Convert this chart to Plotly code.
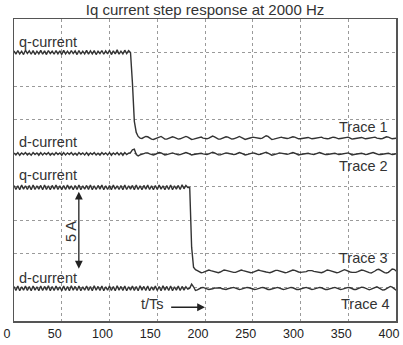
import plotly.graph_objects as go

# ---------------- data (y in screen divisions, 0 = bottom, 9 = top; t in samples) ----------------
STEP = 2  # sample spacing in t/Ts

# Trace 1: q-current (upper pair)
T1_PRE_T0 = 0
T1_PRE = [8.05,7.95,8.06,7.96,8.04,7.94,8.07,7.97,8.05,7.95,
          8.06,7.94,8.04,7.96,8.07,7.95,8.05,7.94,8.06,7.97,
          8.04,7.95,8.06,7.96,8.05,7.94,8.07,7.96,8.04,7.95,
          8.06,7.97,8.05,7.94,8.06,7.95,8.04,7.96,8.07,7.95,
          8.05,7.96,8.06,7.94,8.04,7.97,8.06,7.95,8.05,7.96,
          8.07,7.94,8.05,7.96,8.08,7.95,8.04,7.96,8.07,7.97,
          8.06]
T1_STEP_T0 = 122
T1_STEP = [8.00,7.10,5.95,5.62,5.50,5.45,5.44]
T1_POST_T0 = 136
T1_POST = [5.47,5.50,5.49,5.45,5.42,5.41,5.43,
           5.46,5.49,5.50,5.46,5.42,5.42,5.44,
           5.47,5.49,5.47,5.44,5.42,5.43,5.45,
           5.48,5.50,5.48,5.44,5.41,5.42,5.44,
           5.46,5.48,5.48,5.45,5.43,5.43,5.45,
           5.48,5.51,5.49,5.45,5.42,5.42,5.44,
           5.46,5.49,5.48,5.45,5.42,5.43,5.44,
           5.47,5.50,5.48,5.44,5.41,5.42,5.44,
           5.46,5.48,5.47,5.45,5.43,5.44,5.45,
           5.48,5.52,5.50,5.45,5.41,5.42,5.44,
           5.46,5.48,5.48,5.46,5.44,5.44,5.45,
           5.47,5.49,5.48,5.45,5.43,5.43,5.44,
           5.46,5.48,5.47,5.45,5.43,5.44,5.45,
           5.47,5.49,5.48,5.45,5.43,5.43,5.44,
           5.46,5.48,5.47,5.45,5.43,5.44,5.45,
           5.47,5.49,5.48,5.45,5.42,5.43,5.44,
           5.47,5.48,5.47,5.45,5.43,5.44,5.45,
           5.46,5.48,5.48,5.45,5.43,5.43,5.44,
           5.47,5.49,5.48,5.45,5.43,5.44,5.45,
           5.46,5.48,5.47,5.45,5.44,5.44,5.46]

# Trace 2: d-current (upper pair)
T2_PRE_T0 = 0
T2_PRE = [5.01,4.95,5.02,4.94,5.01,4.96,5.02,4.95,5.00,4.94,
          5.02,4.96,5.01,4.94,5.02,4.95,5.01,4.96,5.02,4.94,
          5.00,4.95,5.02,4.96,5.01,4.94,5.02,4.95,5.01,4.96,
          5.02,4.95,5.00,4.94,5.02,4.96,5.01,4.95,5.02,4.94,
          5.01,4.96,5.02,4.95,5.00,4.94,5.02,4.96,5.01,4.95,
          5.02,4.94,5.01,4.96,5.02,4.95,5.01,4.94,5.02,4.96,
          5.00]
T2_BLIP_T0 = 122
T2_BLIP = [5.02,5.10,5.12,4.96,4.92,4.95,4.98]
T2_POST_T0 = 136
T2_POST = [4.99,5.01,5.01,4.98,4.96,4.95,4.97,
           4.99,5.02,5.01,4.98,4.95,4.96,4.97,
           5.00,5.01,4.99,4.97,4.95,4.96,4.98,
           5.00,5.02,5.00,4.97,4.95,4.96,4.97,
           4.99,5.01,5.00,4.98,4.96,4.96,4.98,
           5.00,5.03,5.01,4.97,4.95,4.95,4.97,
           4.99,5.01,5.00,4.98,4.96,4.96,4.97,
           5.00,5.02,5.00,4.97,4.95,4.96,4.98,
           4.99,5.01,5.00,4.98,4.96,4.97,4.98,
           5.01,5.03,5.01,4.97,4.94,4.95,4.97,
           4.99,5.01,5.00,4.98,4.96,4.97,4.98,
           5.00,5.02,5.00,4.97,4.95,4.96,4.97,
           4.99,5.01,5.00,4.98,4.96,4.96,4.98,
           5.00,5.02,5.00,4.97,4.96,4.96,4.97,
           4.99,5.01,5.00,4.98,4.96,4.97,4.98,
           5.00,5.02,5.01,4.98,4.95,4.96,4.97,
           4.99,5.01,5.00,4.98,4.96,4.97,4.98,
           5.00,5.02,5.00,4.97,4.96,4.96,4.97,
           4.99,5.01,5.00,4.98,4.96,4.97,4.98,
           5.00,5.02,5.00,4.98,4.96,4.97,4.98]

# Trace 3: q-current (lower pair)
T3_PRE_T0 = 0
T3_PRE = [4.04,3.92,4.03,3.91,4.05,3.93,4.03,3.92,4.04,3.91,
          4.05,3.92,4.03,3.93,4.04,3.91,4.05,3.92,4.03,3.91,
          4.04,3.93,4.05,3.92,4.03,3.91,4.04,3.92,4.05,3.93,
          4.03,3.91,4.04,3.92,4.05,3.91,4.03,3.93,4.04,3.92,
          4.05,3.91,4.03,3.92,4.04,3.93,4.05,3.91,4.03,3.92,
          4.04,3.91,4.05,3.93,4.03,3.92,4.04,3.91,4.05,3.92,
          4.03,3.93,4.04,3.91,4.05,3.92,4.03,3.91,4.04,3.93,
          4.05,3.92,4.03,3.91,4.04,3.92,4.05,3.93,4.03,3.91,
          4.04,3.92,4.05,3.91,4.03,3.93,4.04,3.92,4.06,3.94,
          4.04,3.98]
T3_STEP_T0 = 184
T3_STEP = [3.98,2.20,1.60,1.53,1.50]
T3_POST_T0 = 194
T3_POST = [1.46,1.44,1.45,1.48,1.51,1.52,1.50,1.48,1.47,
           1.45,1.44,1.46,1.49,1.52,1.51,1.49,1.47,1.46,
           1.45,1.45,1.47,1.50,1.52,1.50,1.48,1.46,1.45,
           1.44,1.45,1.48,1.51,1.52,1.50,1.48,1.47,1.46,
           1.45,1.44,1.46,1.49,1.51,1.51,1.49,1.47,1.46,
           1.44,1.45,1.47,1.50,1.52,1.51,1.48,1.46,1.45,
           1.45,1.45,1.47,1.50,1.51,1.50,1.48,1.47,1.46,
           1.45,1.44,1.46,1.49,1.52,1.51,1.49,1.47,1.45,
           1.44,1.45,1.48,1.51,1.53,1.51,1.48,1.46,1.45,
           1.44,1.45,1.47,1.50,1.52,1.51,1.48,1.46,1.44,
           1.43,1.45,1.49,1.53,1.54,1.51,1.47,1.44,1.43,
           1.45,1.50,1.55,1.54,1.49,1.45,1.43,1.46,1.51]

# Trace 4: d-current (lower pair)
T4_PRE_T0 = 0
T4_PRE = [1.03,0.91,1.04,0.90,1.02,0.92,1.04,0.91,1.03,0.90,
          1.04,0.92,1.02,0.90,1.04,0.91,1.03,0.92,1.05,0.90,
          1.03,0.91,1.04,0.92,1.02,0.90,1.04,0.91,1.03,0.90,
          1.05,0.92,1.03,0.91,1.04,0.90,1.02,0.92,1.04,0.91,
          1.03,0.90,1.05,0.92,1.03,0.91,1.04,0.90,1.02,0.92,
          1.04,0.91,1.03,0.90,1.05,0.92,1.03,0.91,1.04,0.90,
          1.02,0.92,1.04,0.91,1.03,0.90,1.05,0.92,1.03,0.91,
          1.04,0.90,1.02,0.92,1.04,0.91,1.03,0.90,1.05,0.92,
          1.03,0.91,1.04,0.90,1.02,0.92,1.04,0.91,1.03,0.92,
          1.02,0.95]
T4_BLIP_T0 = 184
T4_BLIP = [0.98,1.10,1.02,0.91,0.93,0.97]
T4_POST_T0 = 196
T4_POST = [0.99,1.00,0.99,0.96,0.94,0.94,0.96,0.98,0.99,
           1.00,0.99,0.96,0.94,0.94,0.96,0.98,1.00,1.00,
           0.98,0.95,0.94,0.95,0.97,0.99,1.00,0.99,0.97,
           0.95,0.94,0.95,0.97,0.99,1.00,0.99,0.96,0.94,
           0.94,0.96,0.98,1.00,1.00,0.98,0.95,0.94,0.95,
           0.97,0.99,1.00,0.99,0.96,0.94,0.94,0.96,0.98,
           1.00,1.00,0.98,0.95,0.94,0.95,0.97,0.99,1.00,
           0.99,0.96,0.94,0.94,0.96,0.98,1.00,1.00,0.98,
           0.95,0.94,0.95,0.97,0.99,1.00,0.99,0.96,0.94,
           0.94,0.96,0.99,1.01,1.00,0.97,0.94,0.93,0.95,
           0.98,1.01,1.02,0.99,0.95,0.92,0.93,0.97,1.01,
           1.03,1.01,0.96,0.92,0.91,0.95,1.00,1.04,1.02]

X_TICKS = [0, 50, 100, 150, 200, 250, 300, 350, 400]
X_RANGE = [0, 400]
Y_RANGE = [0, 9]
TITLE = "Iq current step response at 2000 Hz"

# labels: (text, t, y-division)
LEFT_LABELS = [("q-current", 3.0, 8.32), ("d-current", 3.0, 5.32),
               ("q-current", 3.0, 4.35), ("d-current", 3.0, 1.29)]
RIGHT_LABELS = [("Trace 1", 394, 5.78), ("Trace 2", 394, 4.62),
                ("Trace 3", 394, 1.87), ("Trace 4", 396, 0.51)]


def build(segments):
    xs, ys = [], []
    for t0, vals in segments:
        xs += [t0 + STEP * i for i in range(len(vals))]
        ys += vals
    return xs, ys


traces = [
    [(T1_PRE_T0, T1_PRE), (T1_STEP_T0, T1_STEP), (T1_POST_T0, T1_POST)],
    [(T2_PRE_T0, T2_PRE), (T2_BLIP_T0, T2_BLIP), (T2_POST_T0, T2_POST)],
    [(T3_PRE_T0, T3_PRE), (T3_STEP_T0, T3_STEP), (T3_POST_T0, T3_POST)],
    [(T4_PRE_T0, T4_PRE), (T4_BLIP_T0, T4_BLIP), (T4_POST_T0, T4_POST)],
]

LINE_COLOR = "#333333"
FONT = "Liberation Sans, Arial, sans-serif"
LABEL_SIZE = 14.5

fig = go.Figure()
for segs in traces:
    x, y = build(segs)
    fig.add_trace(go.Scatter(x=x, y=y, mode="lines",
                             line=dict(color=LINE_COLOR, width=1.4),
                             hoverinfo="skip", showlegend=False))

ann = []
for text, t, yv in LEFT_LABELS:
    ann.append(dict(x=t, y=yv, xref="x", yref="y", text=text, showarrow=False,
                    xanchor="left", yanchor="middle",
                    font=dict(size=LABEL_SIZE, color="#333", family=FONT)))
for text, t, yv in RIGHT_LABELS:
    ann.append(dict(x=t, y=yv, xref="x", yref="y", text=text, showarrow=False,
                    xanchor="right", yanchor="middle",
                    font=dict(size=LABEL_SIZE, color="#333", family=FONT)))
# t/Ts label and arrow
ann.append(dict(x=131.0, y=0.5, xref="x", yref="y", text="t/Ts", showarrow=False,
                xanchor="left", yanchor="middle",
                font=dict(size=LABEL_SIZE, color="#333", family=FONT)))
ann.append(dict(x=200, y=0.41, ax=163, ay=0.41, xref="x", yref="y",
                axref="x", ayref="y", text="", showarrow=True,
                arrowhead=2, arrowsize=1.2, arrowwidth=1.3, arrowcolor="#222"))
# 5 A scale arrow
ann.append(dict(x=67.9, y=1.56, ax=67.9, ay=3.9, xref="x", yref="y",
                axref="x", ayref="y", text="", showarrow=True,
                arrowhead=2, startarrowhead=2, arrowside="end+start",
                arrowsize=1.2, startarrowsize=1.2,
                arrowwidth=1.3, arrowcolor="#222"))
ann.append(dict(x=59.6, y=2.68, xref="x", yref="y", text="5 A", showarrow=False,
                textangle=-90, xanchor="center", yanchor="middle",
                font=dict(size=LABEL_SIZE, color="#333", family=FONT)))

axis_common = dict(showgrid=True, gridcolor="#9a9a9a", griddash="dot", gridwidth=1,
                   showline=True, mirror=True, linecolor="#555", linewidth=1.5,
                   zeroline=False, ticks="")

fig.update_layout(
    width=403, height=345,
    margin=dict(l=10, r=4, t=19, b=20),
    paper_bgcolor="white", plot_bgcolor="white",
    title=dict(text=TITLE, x=0.5, xref="paper", y=1 - 10 / 345, yref="container",
               xanchor="center", yanchor="middle",
               font=dict(size=15, color="#333", family=FONT)),
    xaxis=dict(range=X_RANGE, tickvals=X_TICKS, ticklabelshift=-7,
               ticklabeloverflow="allow",
               tickfont=dict(size=12.5, color="#222", family=FONT), **axis_common),
    yaxis=dict(range=Y_RANGE, dtick=1, showticklabels=False, **axis_common),
    annotations=ann,
)

fig.write_html("out.html",
               config={"displayModeBar": False, "staticPlot": True},
               post_script="document.body.style.margin='0';document.body.style.padding='0';")
